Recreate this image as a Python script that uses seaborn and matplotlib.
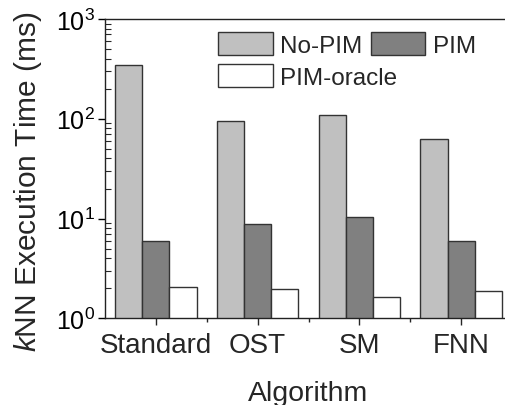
import matplotlib
matplotlib.use("Agg")
import matplotlib.pyplot as plt
import seaborn as sns
import pandas as pd
from matplotlib.ticker import LogLocator, FixedLocator, NullFormatter

# Execution times (ms) per kNN algorithm and configuration
algorithms = ["Standard", "OST", "SM", "FNN"]
configs = ["No-PIM", "PIM", "PIM-oracle"]
no_pim = [345, 96, 108, 62]
pim = [6.0, 8.9, 10.3, 6.0]
pim_oracle = [2.05, 1.95, 1.62, 1.86]
colors = ["#c0c0c0", "#808080", "#ffffff"]

rows = []
for cfg, vals in zip(configs, [no_pim, pim, pim_oracle]):
    for alg, v in zip(algorithms, vals):
        rows.append({"Algorithm": alg, "Config": cfg, "Time": v})
df = pd.DataFrame(rows)

sns.set_theme(style="white")
plt.rcParams["font.family"] = ["Liberation Sans", "DejaVu Sans"]
plt.rcParams["mathtext.fontset"] = "custom"
plt.rcParams["mathtext.rm"] = "Liberation Sans"
plt.rcParams["mathtext.it"] = "Liberation Sans:italic"
plt.rcParams["mathtext.default"] = "regular"

fig = plt.figure(figsize=(5.05, 4.06), dpi=100)
ax = fig.add_axes([105 / 505, (406 - 319.3) / 406, 407 / 505, 299.3 / 406])

sns.barplot(data=df, x="Algorithm", y="Time", hue="Config", order=algorithms,
            hue_order=configs, palette=colors, width=0.8, edgecolor="#333333",
            linewidth=1.0, saturation=1, ax=ax, legend=True)

ax.set_yscale("log")
ax.set_ylim(1, 1000)
ax.set_xlim(-0.5, 3.5)

ax.yaxis.set_major_locator(LogLocator(base=10, numticks=10))
ax.yaxis.set_minor_locator(LogLocator(base=10, subs=range(2, 10), numticks=10))
ax.yaxis.set_minor_formatter(NullFormatter())
ax.tick_params(axis="y", which="major", direction="out", length=5, width=1,
               labelsize=18, left=True, pad=2, colors="black")
ax.tick_params(axis="y", which="minor", direction="in", length=4, width=0.8, left=True)

ax.xaxis.set_minor_locator(FixedLocator([0.5, 1.5, 2.5]))
ax.tick_params(axis="x", which="major", direction="out", length=5, width=1,
               labelsize=20, bottom=True, top=False, pad=5)
ax.tick_params(axis="x", which="minor", direction="out", length=3, width=1, bottom=True)

for s in ["left", "bottom", "top", "right"]:
    ax.spines[s].set_color("#222222")
    ax.spines[s].set_linewidth(1.0)

ax.set_xlabel("Algorithm", fontsize=20.5, labelpad=16)
ax.set_ylabel(r"$\mathit{k}$NN Execution Time (ms)", fontsize=21.5)
ax.yaxis.set_label_coords((44 - 105) / 407, (319.3 - 181.5) / 299.3)

handles, labels = ax.get_legend_handles_labels()
ax.get_legend().remove()
leg_kw = dict(frameon=False, fontsize=17.5, handlelength=2.25, handleheight=1.1,
              handletextpad=0.3, columnspacing=0.35, borderpad=0, borderaxespad=0,
              loc="upper left")
x0 = (218 - 105) / 407
leg1 = ax.legend(handles[:2], labels[:2], ncol=2,
                 bbox_to_anchor=(x0, (319.3 - 33) / 299.3), **leg_kw)
ax.add_artist(leg1)
ax.legend(handles[2:], labels[2:], ncol=1,
          bbox_to_anchor=(x0, (319.3 - 65) / 299.3), **leg_kw)

fig.savefig("out.png", dpi=100)
